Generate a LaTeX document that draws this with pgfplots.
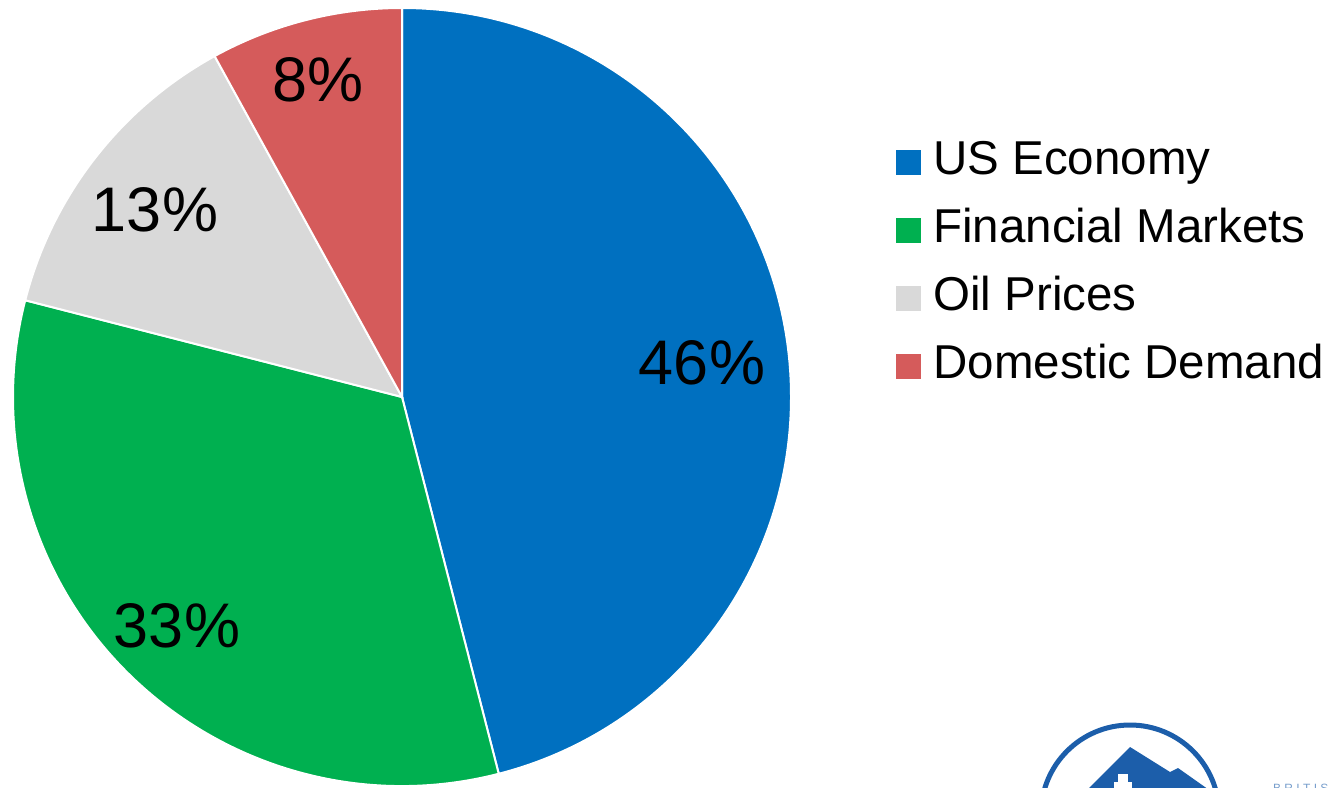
\documentclass[border=0pt]{standalone}
\usepackage{pgfplots}
\pgfplotsset{compat=1.18}
\usepackage{pgfplotstable}
\usepackage{fontspec}
\setmainfont{Liberation Sans}
\definecolor{usblue}{HTML}{0070C0}
\definecolor{fingreen}{HTML}{00B050}
\definecolor{oilgray}{HTML}{D9D9D9}
\definecolor{domred}{HTML}{D55B5B}
\definecolor{logoblue}{RGB}{28,94,170}
% shares in percent
\def\vUS{46}\def\vFin{33}\def\vOil{13}\def\vDom{8}
\begin{document}
\begin{tikzpicture}
\pgfmathsetmacro\aA{90}
\pgfmathsetmacro\aB{\aA-3.6*\vUS}
\pgfmathsetmacro\aC{\aB-3.6*\vFin}
\pgfmathsetmacro\aD{\aC-3.6*\vOil}
\pgfmathsetmacro\aE{\aD-3.6*\vDom}
\begin{axis}[
  width=665.5pt, height=393.5pt, scale only axis,
  xmin=0, xmax=1331, ymin=0, ymax=787,
  hide axis, clip=false,
  legend image code/.code={\fill[#1, draw=none] (0pt,-6.25pt) rectangle (12.5pt,6.25pt);},
  legend cell align=left,
  legend style={at={(axis cs:896,787-140)}, anchor=north west, draw=none, fill=none,
    font=\fontsize{23.75}{26}\selectfont, row sep=12.05pt, column sep=6pt, inner sep=0pt,
    nodes={inner sep=0pt, text height=17pt, text depth=5pt}},
]
\addlegendimage{fill=usblue, draw=none}
\addlegendentry{US Economy}
\addlegendimage{fill=fingreen, draw=none}
\addlegendentry{Financial Markets}
\addlegendimage{fill=oilgray, draw=none}
\addlegendentry{Oil Prices}
\addlegendimage{fill=domred, draw=none}
\addlegendentry{Domestic Demand}
\filldraw[fill=usblue, draw=white, line width=1pt] (axis cs:402,390) -- ++(\aA:194.5pt) arc[start angle=\aA, end angle=\aB, radius=194.5pt] -- cycle;
\filldraw[fill=fingreen, draw=white, line width=1pt] (axis cs:402,390) -- ++(\aB:194.5pt) arc[start angle=\aB, end angle=\aC, radius=194.5pt] -- cycle;
\filldraw[fill=oilgray, draw=white, line width=1pt] (axis cs:402,390) -- ++(\aC:194.5pt) arc[start angle=\aC, end angle=\aD, radius=194.5pt] -- cycle;
\filldraw[fill=domred, draw=white, line width=1pt] (axis cs:402,390) -- ++(\aD:194.5pt) arc[start angle=\aD, end angle=\aE, radius=194.5pt] -- cycle;
\node[font=\fontsize{31.5}{34}\selectfont] at (axis cs:702,787-363) {46\%};
\node[font=\fontsize{31.5}{34}\selectfont] at (axis cs:177,787-626) {33\%};
\node[font=\fontsize{31.5}{34}\selectfont] at (axis cs:155,787-210) {13\%};
\node[font=\fontsize{31.5}{34}\selectfont] at (axis cs:318,787-80) {8\%};
% logo (partially visible)
\draw[logoblue, line width=2.5pt] (axis cs:1130,-27) circle[radius=44.5pt];
\fill[logoblue] (axis cs:1085,-5) -- (axis cs:1130,787-747) -- (axis cs:1170,787-772) -- (axis cs:1178,787-768) -- (axis cs:1212,-5) -- cycle;
\fill[white] (axis cs:1118,-5) rectangle (axis cs:1128,787-774);
\fill[white] (axis cs:1114,787-782) rectangle (axis cs:1132,-5);
\node[logoblue!60, font=\fontsize{6}{7}\selectfont, anchor=west] at (axis cs:1266,-1) {B R I T I S H};
\end{axis}
\pgfresetboundingbox
\path (0,0) rectangle (665.5pt,393.5pt);
\end{tikzpicture}
\end{document}
